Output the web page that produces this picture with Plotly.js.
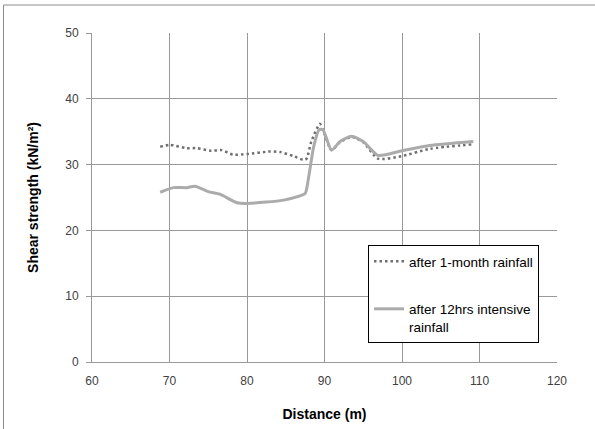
<!DOCTYPE html>
<html>
<head>
<meta charset="utf-8">
<script src="https://cdn.plot.ly/plotly-3.0.1.min.js"></script>
<style>html,body{margin:0;padding:0;background:#fff;}#chart{width:595px;height:429px;}</style>
</head>
<body>
<div id="chart"></div>
<script>
// Series 1: after 1-month rainfall (dotted)
var distMonth = [68.8, 70.1, 72.2, 73.5, 75.4, 76.7, 78.2, 80.0, 83.0, 84.3, 86.0, 87.3, 87.7, 88.3, 89.4, 89.8, 90.9, 92.0, 93.5, 95.0, 96.9, 100.0, 103.6, 109.2];
var shearMonth = [32.7, 33.0, 32.5, 32.5, 32.1, 32.2, 31.5, 31.6, 32.0, 31.9, 31.3, 30.7, 30.9, 33.5, 36.2, 35.3, 32.2, 33.4, 34.2, 33.4, 30.9, 31.3, 32.4, 33.1];
// Series 2: after 12hrs intensive rainfall (solid)
var distIntense = [68.8, 70.5, 72.2, 73.3, 75.0, 76.5, 78.7, 80.0, 82.5, 84.7, 86.4, 87.5, 87.9, 88.6, 89.3, 89.8, 90.9, 92.0, 93.5, 95.0, 96.9, 100.0, 103.6, 109.2];
var shearIntense = [25.8, 26.5, 26.5, 26.7, 25.9, 25.5, 24.2, 24.1, 24.3, 24.6, 25.1, 25.6, 27.7, 32.7, 35.3, 35.3, 32.2, 33.5, 34.3, 33.5, 31.4, 32.1, 32.9, 33.5];

var nameMonth = 'after 1-month rainfall';
var nameIntense = 'after 12hrs intensive<br>rainfall';
var xTitle = 'Distance (m)';
var yTitle = 'Shear strength (kN/m²)';

var FONT = 'Liberation Sans, Arial, sans-serif';

var traces = [
  {x: distMonth, y: shearMonth, type: 'scatter', mode: 'lines', name: nameMonth,
   legendgroup: 'a', line: {color: '#6f6f6f', width: 2.5, dash: '2.5px,3px', shape: 'spline', smoothing: 0.6}},
  {x: distIntense, y: shearIntense, type: 'scatter', mode: 'lines', name: nameIntense,
   legendgroup: 'b', line: {color: '#ababab', width: 3, shape: 'spline', smoothing: 0.6}}
];

var L = 92, R = 38, T = 33, B = 67, W = 595, H = 429;
var pw = W - L - R, ph = H - T - B;
function px2x(p){ return (p - L) / pw; }
function px2y(p){ return (H - B - p) / ph; }

var layout = {
  width: W, height: H,
  margin: {l: L, r: R, t: T, b: B, pad: 0},
  paper_bgcolor: '#ffffff', plot_bgcolor: '#ffffff',
  font: {family: FONT, size: 12, color: '#404040'},
  showlegend: true,
  legend: {
    x: px2x(368), y: px2y(245), xanchor: 'left', yanchor: 'top',
    bordercolor: '#000000', borderwidth: 1, bgcolor: '#ffffff',
    font: {family: FONT, size: 13.5, color: '#000000'},
    tracegroupgap: 27, traceorder: 'grouped', valign: 'top'
  },
  xaxis: {
    range: [60, 120], dtick: 10, tick0: 60,
    showgrid: true, gridcolor: '#999999', gridwidth: 1,
    zeroline: false, showline: true, linecolor: '#999999', linewidth: 1,
    ticks: '', ticklabelstandoff: 8, tickfont: {size: 12, color: '#404040'},
    title: {text: xTitle, font: {size: 14, color: '#000000', family: FONT, weight: 'bold'}, standoff: 21},
    fixedrange: true
  },
  yaxis: {
    range: [0, 50], dtick: 10, tick0: 0,
    showgrid: true, gridcolor: '#999999', gridwidth: 1,
    zeroline: false, showline: true, linecolor: '#999999', linewidth: 1,
    ticks: 'outside', ticklen: 5, tickcolor: '#999999', ticklabelstandoff: 5,
    tickfont: {size: 12, color: '#404040'},
    title: {text: yTitle, font: {size: 14, color: '#000000', family: FONT, weight: 'bold'}, standoff: 23},
    fixedrange: true
  },
  shapes: [
    {type: 'rect', xref: 'paper', yref: 'paper', layer: 'below',
     x0: px2x(3.5), x1: px2x(600), y0: px2y(434), y1: px2y(5),
     line: {color: '#8c8c8c', width: 1}}
  ]
};

Plotly.newPlot('chart', traces, layout, {displayModeBar: false, staticPlot: true});
</script>
</body>
</html>
